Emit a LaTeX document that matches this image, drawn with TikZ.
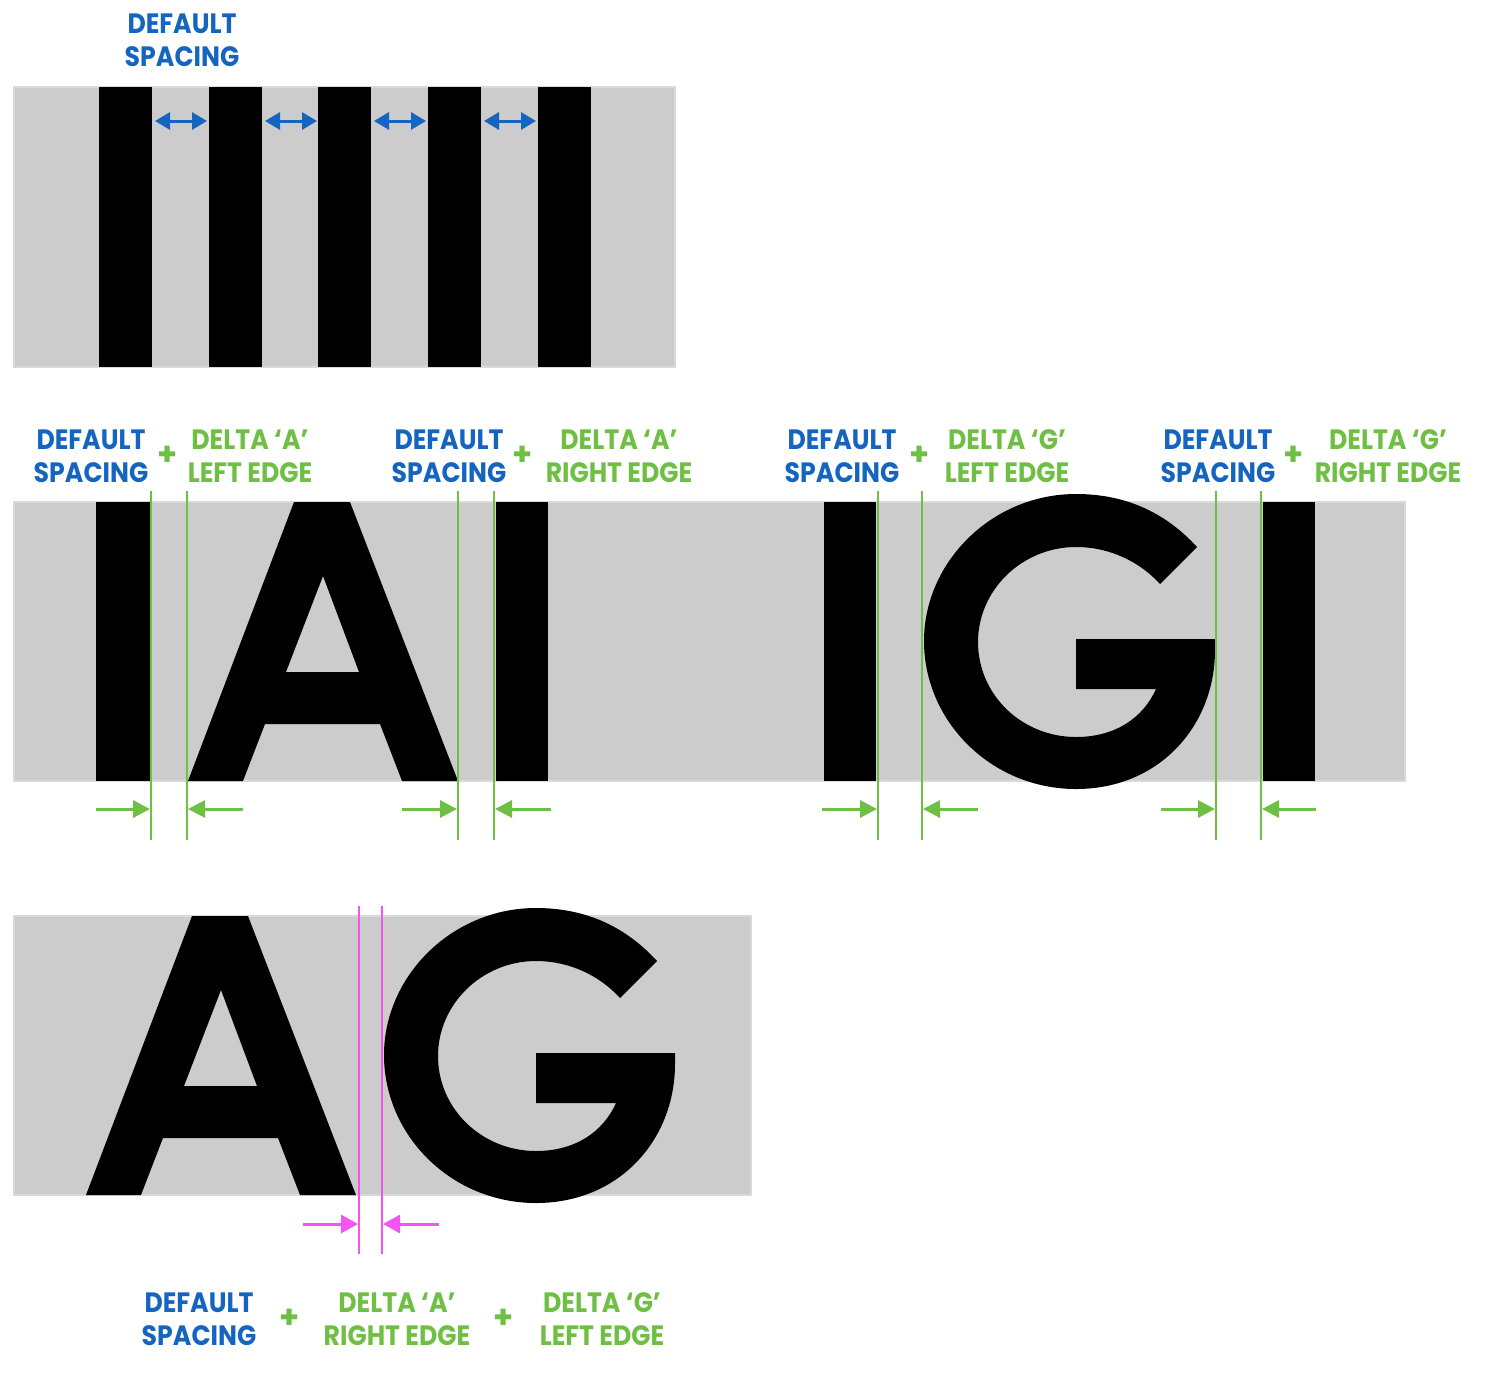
\documentclass[tikz,border=0pt]{standalone}
\usepackage{fontspec}
\newfontfamily\lblfont{Poppins}[FakeStretch=0.9]
\newfontfamily\plusfont{Poppins}
\usetikzlibrary{arrows.meta}
\definecolor{bgray}{HTML}{CCCCCC}
\definecolor{bedge}{HTML}{D9D9D9}
\definecolor{tblue}{HTML}{1565C0}
\definecolor{tgreen}{HTML}{6FBF45}
\definecolor{tpink}{HTML}{F455F2}
\tikzset{
  panel/.style={fill=bgray, draw=bedge, line width=1.5pt},
  glyph/.style={fill=black, draw=none},
  bluetxt/.style={font=\lblfont\bfseries\fontsize{28}{33}\selectfont, text=tblue, align=center, inner sep=0pt},
  greentxt/.style={font=\lblfont\bfseries\fontsize{28}{33}\selectfont, text=tgreen, align=center, inner sep=0pt},
  plustxt/.style={font=\plusfont\bfseries\fontsize{32}{32}\selectfont, text=tgreen, inner sep=0pt},
  gline/.style={draw=tgreen, line width=2.8pt},
  garrow/.style={draw=tgreen, line width=3pt, -{Triangle[length=17pt,width=17pt]}},
  pline/.style={draw=tpink, line width=2.8pt},
  parrow/.style={draw=tpink, line width=3pt, -{Triangle[length=17pt,width=18pt]}},
  barrow/.style={draw=tblue, line width=3pt, {Triangle[length=15pt,width=17pt]}-{Triangle[length=15pt,width=17pt]}},
}
% glyph paths (drawn for the middle panel; shifted copies for the bottom panel)
\newcommand{\glyphA}{(188,781) -- (294,502) -- (350,502) -- (458,781) -- (402,781) -- (380,724) -- (265,724) -- (243,781) -- cycle
  (323,576) -- (359,672) -- (286,672) -- cycle}
\newcommand{\glyphG}{(1197,547) .. controls (1165,512) and (1125,494) .. (1076,494)
  .. controls (992,494) and (924,562) .. (924,641)
  .. controls (924,722) and (992,789) .. (1076,789)
  .. controls (1160,789) and (1215,725) .. (1215,650)
  -- (1215,639) -- (1076,639) -- (1076,689) -- (1156,689)
  .. controls (1143,718) and (1115,737) .. (1076,737)
  .. controls (1022,737) and (978,695) .. (978,642)
  .. controls (978,590) and (1022,547) .. (1076,547)
  .. controls (1110,547) and (1140,562) .. (1160,584) -- cycle}
\begin{document}
\begin{tikzpicture}[x=1pt,y=-1pt]
\useasboundingbox (0,0) rectangle (1490,1374);
% ---------- top panel ----------
\path[panel] (14,87) rectangle (675,367);
\foreach \xa in {99,209,318,428,538}{
  \path[glyph] (\xa,87) rectangle ++(53,280);
}
\foreach \xa in {155,265,374,484}{
  \draw[barrow] (\xa,121) -- ++(52,0);
}
\node[bluetxt] (t0) at (182,40) {DEFAULT\\SPACING};
% ---------- middle panel ----------
\path[panel] (14,502) rectangle (1405,781);
\path[glyph] (96,502) rectangle (150,781);
\path[glyph] (496,502) rectangle (548,781);
\path[glyph, even odd rule] \glyphA;
\path[glyph] (824,502) rectangle (876,781);
\path[glyph] (1263,502) rectangle (1315,781);
\path[glyph, even odd rule] \glyphG;
% green guide lines
\foreach \xa [count=\i] in {151,187,458,494,878,922,1216,1261}{
  \coordinate (gt\i) at (\xa,491);
  \coordinate (gb\i) at (\xa,840);
  \draw[gline] (gt\i) -- (gb\i);
}
% green arrows
\draw[garrow] (96,809) -- (150,809);
\draw[garrow] (243,809) -- (188,809);
\draw[garrow] (402,809) -- (457,809);
\draw[garrow] (551,809) -- (495,809);
\draw[garrow] (822,809) -- (877,809);
\draw[garrow] (978,809) -- (923,809);
\draw[garrow] (1161,809) -- (1215,809);
\draw[garrow] (1316,809) -- (1262,809);
% labels
\node[bluetxt] (d1) at (91,456) {DEFAULT\\SPACING};
\node[plustxt] (p1) at (168,456) {+};
\node[greentxt] (e1) at (250,456) {DELTA ‘A’\\LEFT EDGE};
\node[bluetxt] (d2) at (449,456) {DEFAULT\\SPACING};
\node[plustxt] (p2) at (523,456) {+};
\node[greentxt] (e2) at (619,456) {DELTA ‘A’\\RIGHT EDGE};
\node[bluetxt] (d3) at (842,456) {DEFAULT\\SPACING};
\node[plustxt] (p3) at (920,456) {+};
\node[greentxt] (e3) at (1007,456) {DELTA ‘G’\\LEFT EDGE};
\node[bluetxt] (d4) at (1218,456) {DEFAULT\\SPACING};
\node[plustxt] (p4) at (1294,456) {+};
\node[greentxt] (e4) at (1388,456) {DELTA ‘G’\\RIGHT EDGE};
% ---------- bottom panel ----------
\path[panel] (14,916) rectangle (751,1195);
\begin{scope}[shift={(-102,414)}]
  \path[glyph, even odd rule] \glyphA;
\end{scope}
\begin{scope}[shift={(-540,414)}]
  \path[glyph, even odd rule] \glyphG;
\end{scope}
\coordinate (pt1) at (359,906); \coordinate (pb1) at (359,1254);
\coordinate (pt2) at (382,906); \coordinate (pb2) at (382,1254);
\draw[pline] (pt1) -- (pb1);
\draw[pline] (pt2) -- (pb2);
\draw[parrow] (303,1224) -- (358,1224);
\draw[parrow] (439,1224) -- (383,1224);
\node[bluetxt] (d5) at (199,1319) {DEFAULT\\SPACING};
\node[plustxt] (p5) at (290,1319) {+};
\node[greentxt] (e5) at (397,1319) {DELTA ‘A’\\RIGHT EDGE};
\node[plustxt] (p6) at (504,1319) {+};
\node[greentxt] (e6) at (602,1319) {DELTA ‘G’\\LEFT EDGE};
\end{tikzpicture}
\end{document}
